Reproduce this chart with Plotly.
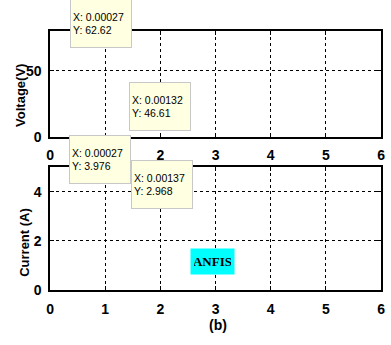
import plotly.graph_objects as go

# Data (read from the data tips)
volt_x = [0.00027, 0.00132]
volt_y = [62.62, 46.61]
curr_x = [0.00027, 0.00137]
curr_y = [3.976, 2.968]
x_ticks = [0, 1, 2, 3, 4, 5, 6]
volt_ticks = [0, 50]
curr_ticks = [0, 2, 4]

W, H = 391, 345
TICKFONT = dict(family="Liberation Sans, Arial, sans-serif", size=14, color="black", weight="bold")
TIPFONT = dict(family="Liberation Sans, Arial, sans-serif", size=10.5, color="black")

fig = go.Figure()
# data-tip points sit on the y axis (x ~ 1e-3 on a 0..6 scale), so they are not visible
fig.add_trace(go.Scatter(x=volt_x, y=volt_y, mode="markers", marker=dict(color="black", size=3, opacity=0),
                         xaxis="x", yaxis="y", showlegend=False, hoverinfo="skip"))
fig.add_trace(go.Scatter(x=curr_x, y=curr_y, mode="markers", marker=dict(color="black", size=3, opacity=0),
                         xaxis="x2", yaxis="y2", showlegend=False, hoverinfo="skip"))

xdom = [47 / W, 385 / W]
ax_common = dict(showline=True, linecolor="black", linewidth=1.5, mirror="ticks",
                 ticks="inside", ticklen=4, tickcolor="black",
                 showgrid=True, gridcolor="black", griddash="dot", gridwidth=1,
                 zeroline=False, tickfont=TICKFONT)

fig.update_layout(
    width=W, height=H, margin=dict(l=0, r=0, t=0, b=0),
    paper_bgcolor="white", plot_bgcolor="white",
    xaxis=dict(domain=xdom, range=[0, 6], tickvals=x_ticks, anchor="y",
               ticklabelstandoff=5, **ax_common),
    yaxis=dict(domain=[1 - 140 / H, 1 - 32 / H], range=[0, 80], tickvals=volt_ticks, anchor="x",
               ticklabelstandoff=4, **ax_common),
    xaxis2=dict(domain=xdom, range=[0, 6], tickvals=x_ticks, anchor="y2",
                ticklabelstandoff=6, **ax_common),
    yaxis2=dict(domain=[1 - 296.7 / H, 1 - 171 / H], range=[0, 5], tickvals=curr_ticks, anchor="x2",
                ticklabelstandoff=4, **ax_common),
)

TITLEFONT = dict(family="Liberation Sans, Arial", size=13, color="black", weight="bold")
annots = []
# Axis titles
annots.append(dict(text="Voltage(V)", x=17 / W, y=1 - 97.5 / H, xref="paper", yref="paper",
                   xanchor="center", yanchor="middle",
                   showarrow=False, textangle=-90, font=TITLEFONT))
annots.append(dict(text="Current (A)", x=21 / W, y=1 - 248 / H, xref="paper", yref="paper",
                   xanchor="center", yanchor="middle",
                   showarrow=False, textangle=-90, font=TITLEFONT))
annots.append(dict(text="(b)", x=218 / W, y=1 - 333 / H, xref="paper", yref="paper",
                   xanchor="center", yanchor="middle",
                   showarrow=False, font=dict(family="Liberation Sans, Arial", size=14, color="black", weight="bold")))

# Data tips
tip_offsets_v = [(50.5, -31), (110, 31)]
tip_offsets_i = [(50, -32.7), (112, -32)]
for (xv, yv), (dx, dy) in zip(zip(volt_x, volt_y), tip_offsets_v):
    annots.append(dict(text=f"X: {xv:.5f}<br>Y: {yv}", x=xv, y=yv, xref="x", yref="y",
                       showarrow=True, arrowcolor="rgba(0,0,0,0)", ax=dx, ay=dy,
                       align="left", width=56, height=43, borderpad=2, borderwidth=1,
                       bordercolor="#c8c8c8", bgcolor="#ffffe1", font=TIPFONT))
for (xv, yv), (dx, dy) in zip(zip(curr_x, curr_y), tip_offsets_i):
    annots.append(dict(text=f"X: {xv:.5f}<br>Y: {yv}", x=xv, y=yv, xref="x2", yref="y2",
                       showarrow=True, arrowcolor="rgba(0,0,0,0)", ax=dx, ay=dy,
                       align="left", width=56, height=43, borderpad=2, borderwidth=1,
                       bordercolor="#c8c8c8", bgcolor="#ffffe1", font=TIPFONT))

annots.append(dict(text="ANFIS", x=2.95, y=1.16, xref="x2", yref="y2", showarrow=False,
                   bgcolor="#00ffff", width=37, height=19, borderpad=3,
                   font=dict(family="Liberation Serif, Times New Roman, serif", size=13,
                             color="black", weight="bold")))

fig.update_layout(annotations=annots)
fig.write_html("out.html")
